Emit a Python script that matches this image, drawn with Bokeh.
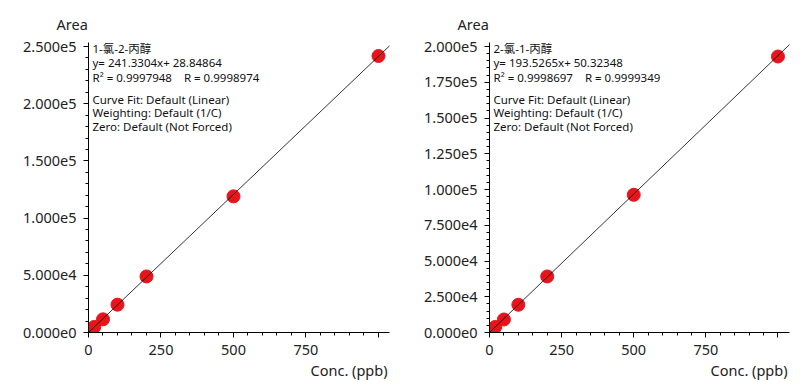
from bokeh.plotting import figure
from bokeh.layouts import row
from bokeh.models import Range1d, FixedTicker, Label, Slope, Title
from bokeh.embed import file_html
from bokeh.resources import INLINE

# ---- data ----
conc = [10, 20, 50, 100, 200, 500, 1000]
area_1 = [2400, 4900, 11500, 24300, 49000, 119000, 241700]
area_2 = [2000, 3900, 9100, 19400, 39200, 96300, 193000]
names = ["1-氯-2-丙醇", "2-氯-1-丙醇"]
slopes = [241.3304, 193.5265]
intercepts = [28.84864, 50.32348]
r2_text = ["0.9997948", "0.9998697"]
r_text = ["0.9998974", "0.9999349"]
x_major = [0, 250, 500, 750, 1000]
x_labels = ["0", "250", "500", "750", ""]
x_minor = list(range(0, 1050, 50))
y_major_1 = [0, 50000, 100000, 150000, 200000, 250000]
y_minor_1 = list(range(0, 260000, 10000))
y_major_2 = [0, 25000, 50000, 75000, 100000, 125000, 150000, 175000, 200000]
y_minor_2 = list(range(0, 205000, 5000))
fit_info = ["Curve Fit: Default (Linear)", "Weighting: Default (1/C)", "Zero: Default (Not Forced)"]

FONT = "Noto Sans, Noto Sans CJK SC"
NB = "\u00a0"


def sci(v):
    m, e = f"{v:.3e}".split("e")
    return f"{m}e{int(e)}"


def make(area, name, slope, icpt, r2s, rs, y_major, y_minor, y_end, x_end,
         width, b_left, b_right):
    H = 380
    bt, bb = 42, 48
    fh = H - bt - bb
    p = figure(width=width, height=H, output_backend="svg", toolbar_location=None,
               x_range=Range1d(0, x_end), y_range=Range1d(0, y_end),
               min_border_left=b_left, min_border_right=b_right,
               min_border_top=bt, min_border_bottom=bb)
    p.outline_line_color = None
    p.grid.visible = False
    p.background_fill_color = "white"

    xa = p.xaxis[0]
    xa.ticker = FixedTicker(ticks=x_major, minor_ticks=x_minor)
    xa.major_label_overrides = {t: l for t, l in zip(x_major, x_labels)}
    ya = p.yaxis[0]
    ya.ticker = FixedTicker(ticks=y_major, minor_ticks=y_minor)
    ya.major_label_overrides = {t: sci(t) for t in y_major}
    for ax in (xa, ya):
        ax.axis_line_color = "black"
        ax.major_tick_line_color = "black"
        ax.minor_tick_line_color = "black"
        ax.major_tick_in = 0
        ax.minor_tick_in = 0
        ax.major_tick_out = 5
        ax.minor_tick_out = 3
        ax.major_label_text_font = FONT
        ax.major_label_text_font_size = "14.5px"
        ax.major_label_text_color = "#222222"
    xa.major_label_standoff = 7
    ya.major_label_standoff = 7

    p.add_layout(Slope(gradient=slope, y_intercept=icpt, line_color="black", line_width=0.8))
    p.scatter(conc, area, size=13, fill_color="#e8141b", line_color="#e8141b")

    # axis titles
    p.add_layout(Title(text="Area", align="left", offset=-32, text_font=FONT,
                       text_font_size="14.5px", text_font_style="normal",
                       text_color="#222222", standoff=18), "above")
    p.add_layout(Title(text="Conc. (ppb)", align="right", offset=2, text_font=FONT,
                       text_font_size="14.5px", text_font_style="normal",
                       text_color="#222222", standoff=0), "below")

    lines = [name, f"y={NB}{slope}x+{NB}{icpt}", f"R²{NB}={NB}{r2s}{NB*4}R{NB}={NB}{rs}"]
    offs = [6, 20, 35]
    for t, o in zip(lines, offs):
        p.add_layout(Label(x=4, y=fh - o, x_units="screen", y_units="screen", text=t,
                           text_baseline="middle", text_font=FONT, text_font_size="11.5px",
                           text_color="#111111"))
    for t, o in zip(fit_info, [57, 70, 84]):
        p.add_layout(Label(x=4, y=fh - o, x_units="screen", y_units="screen", text=t,
                           text_baseline="middle", text_font=FONT, text_font_size="11.5px",
                           text_color="#111111"))
    return p


p1 = make(area_1, names[0], slopes[0], intercepts[0], r2_text[0], r_text[0],
          y_major_1, y_minor_1, 253500, 1038, 404, 88, 15)
p2 = make(area_2, names[1], slopes[1], intercepts[1], r2_text[1], r_text[1],
          y_major_2, y_minor_2, 202800, 1040, 397, 85, 12)

layout = row(p1, p2)
open("out.html", "w").write(file_html(layout, INLINE))
